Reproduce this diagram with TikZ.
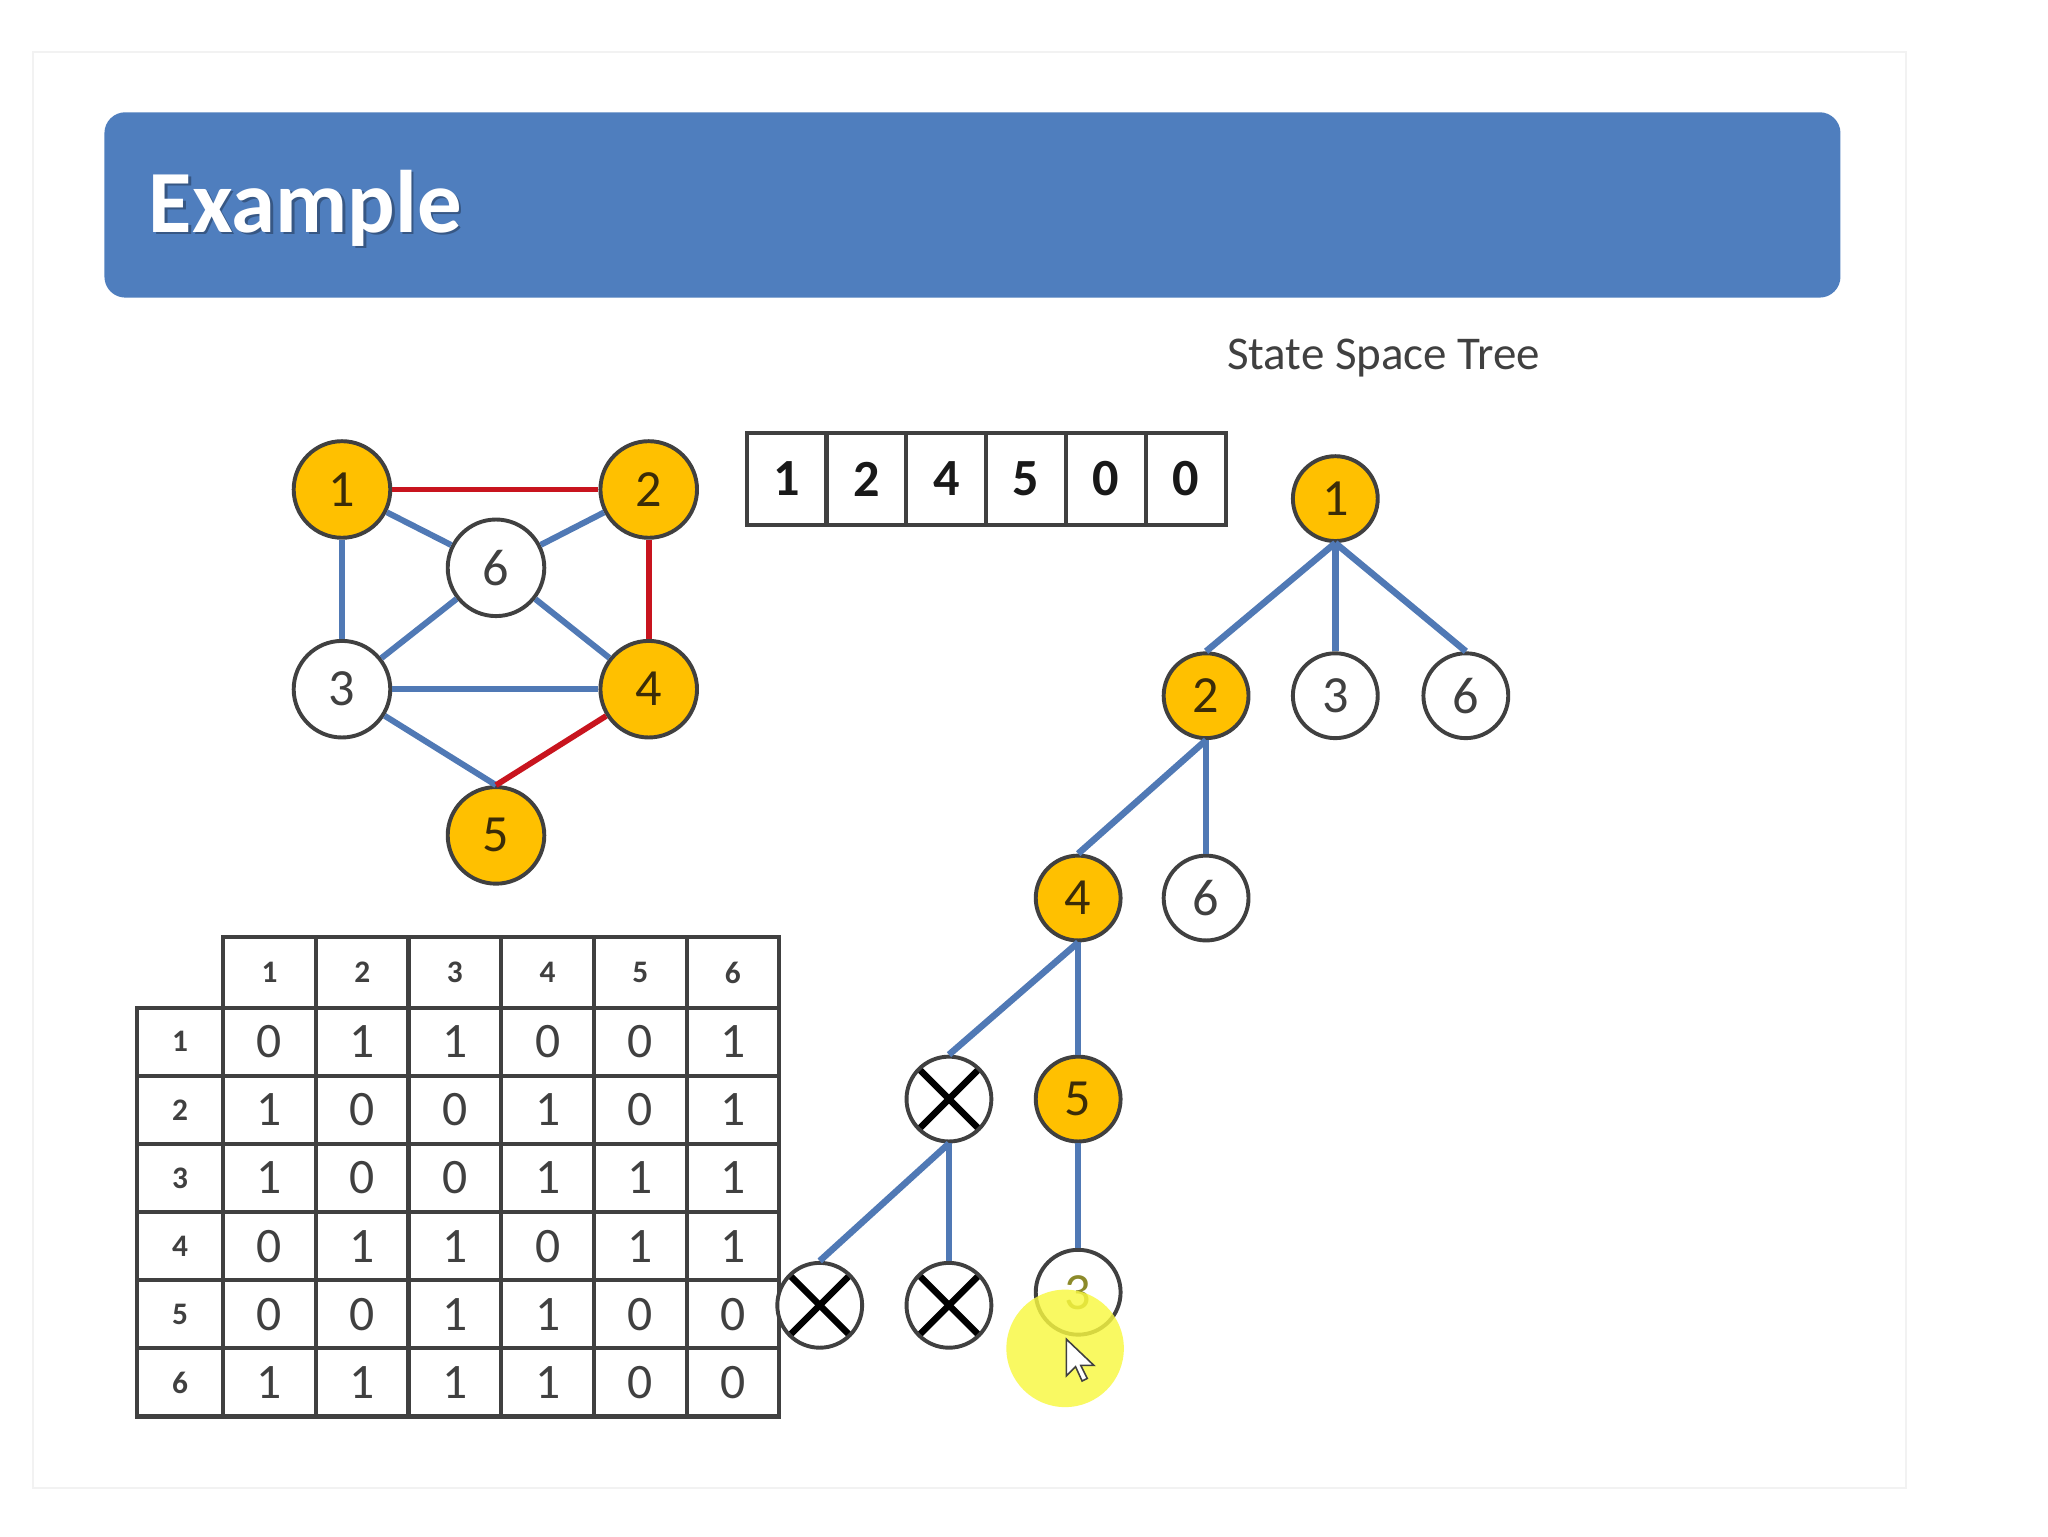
\documentclass[tikz,border=0pt]{standalone}
\usepackage{fontspec}
\setmainfont{Carlito}
\definecolor{hdrblue}{HTML}{4F7EBE}
\definecolor{gold}{HTML}{FFC000}
\definecolor{ndark}{HTML}{404040}
\definecolor{edgeblue}{HTML}{5079B5}
\definecolor{edgered}{HTML}{C8141E}
\definecolor{digbrown}{HTML}{3B2C08}
\definecolor{glow}{HTML}{F8F840}
\definecolor{olivetext}{HTML}{8C8A2A}
\begin{document}
\begin{tikzpicture}[x=0.5pt,y=-0.5pt,
  gnode/.style={circle,draw=ndark,line width=1.5pt,minimum size=37pt,inner sep=0pt,font=\fontsize{20}{20}\selectfont},
  tnode/.style={circle,draw=ndark,line width=1.5pt,minimum size=32.5pt,inner sep=0pt,font=\fontsize{20}{20}\selectfont},
  yel/.style={fill=gold,text=digbrown},
  wht/.style={fill=white,text=ndark},
  xnode/.style={tnode,fill=white,path picture={
     \draw[black,line width=2.5pt] ([shift={(-12.5pt,-12.5pt)}]path picture bounding box.center) -- ([shift={(12.5pt,12.5pt)}]path picture bounding box.center);
     \draw[black,line width=2.5pt] ([shift={(-12.5pt,12.5pt)}]path picture bounding box.center) -- ([shift={(12.5pt,-12.5pt)}]path picture bounding box.center);}},
  bedge/.style={draw=edgeblue,line width=2.3pt},
  redge/.style={draw=edgered,line width=2.2pt},
  tedge/.style={draw=edgeblue,line width=2.5pt},
  cell/.style={draw=ndark,line width=1.6pt,minimum width=35.5pt,minimum height=26.1pt,inner sep=0pt,font=\fontsize{19}{19}\selectfont,text=ndark},
  hcell/.style={draw=ndark,line width=1.6pt,minimum width=35.5pt,minimum height=27pt,inner sep=0pt,font=\bfseries\fontsize{12}{12}\selectfont,text=ndark},
  rcell/.style={draw=ndark,line width=1.6pt,minimum width=33pt,minimum height=26.1pt,inner sep=0pt,font=\bfseries\fontsize{12}{12}\selectfont,text=ndark},
  acell/.style={draw=ndark,line width=1.6pt,minimum width=30.6pt,minimum height=35.5pt,inner sep=0pt,font=\bfseries\fontsize{20}{20}\selectfont,text=black!90}
]
\useasboundingbox (0,0) rectangle (1569,1177);
\fill[white] (0,0) rectangle (1569,1177);
\draw[black!5,line width=0.8pt] (25,40) rectangle (1460,1140);

% header
\node[fill=hdrblue,rounded corners=8pt,minimum width=665pt,minimum height=71pt,inner sep=0pt] (header) at (745,157) {};
\node[anchor=base west,font=\bfseries\fontsize{34}{34}\selectfont,text=black,opacity=0.3] (exshadow) at (109,180) {Example};
\node[anchor=base west,font=\bfseries\fontsize{34}{34}\selectfont,text=white] (ex) at (107,178) {Example};

% title
\node[anchor=base west,font=\fontsize{18}{18}\selectfont,text=ndark] (title) at (933,283) {State Space Tree};

% graph
\node[gnode,yel] (g1) at (262,375) {1};
\node[gnode,yel] (g2) at (497,375) {2};
\node[gnode,wht] (g6) at (380,435) {6};
\node[gnode,wht] (g3) at (262,528) {3};
\node[gnode,yel] (g4) at (497,528) {4};
\node[gnode,yel] (g5) at (380,640) {5};
\draw[bedge] (g1) -- (g6);
\draw[bedge] (g1) -- (g3);
\draw[bedge] (g6) -- (g2);
\draw[bedge] (g6) -- (g3);
\draw[bedge] (g6) -- (g4);
\draw[bedge] (g3) -- (g4);
\draw[bedge] (g3) -- (g5.north);
\draw[redge] (g1) -- (g2);
\draw[redge] (g2) -- (g4);
\draw[redge] (g4) -- (g5.north);

% solution array
\foreach \v [count=\i] in {1,2,4,5,0,0}
  \node[acell] (a\i) at ({572+30.6+61.2*(\i-1)},367) {\v};

% adjacency table
\foreach \c in {1,...,6}
  \node[hcell] (h-\c) at ({206.5+71*(\c-1)},745) {\c};
\foreach \r in {1,...,6}
  \node[rcell] (r-\r) at (138,{798.1+52.2*(\r-1)}) {\r};
\foreach \r/\row in {1/{0,1,1,0,0,1},2/{1,0,0,1,0,1},3/{1,0,0,1,1,1},4/{0,1,1,0,1,1},5/{0,0,1,1,0,0},6/{1,1,1,1,0,0}}{
  \foreach \v [count=\c] in \row
    \node[cell] (m-\r-\c) at ({206.5+71*(\c-1)},{798.1+52.2*(\r-1)}) {\v};
}

% state space tree
\node[tnode,yel] (t1) at (1023,382) {1};
\node[tnode,yel] (t2) at (924,533) {2};
\node[tnode,wht] (t3) at (1023,533) {3};
\node[tnode,wht] (t6) at (1123,533) {6};
\node[tnode,yel] (t4) at (826,688) {4};
\node[tnode,wht] (t6b) at (924,688) {6};
\node[xnode] (x1) at (727,842) {};
\node[tnode,yel] (t5) at (826,842) {5};
\node[xnode] (x2) at (628,1000) {};
\node[xnode] (x3) at (727,1000) {};
\node[tnode,fill=white,text=olivetext] (t3b) at (826,990) {3};
\draw[tedge] (t1.south) -- (t2.north);
\draw[tedge] (t1.south) -- (t3.north);
\draw[tedge] (t1.south) -- (t6.north);
\draw[tedge] (t2.south) -- (t4.north);
\draw[tedge] (t2.south) -- (t6b.north);
\draw[tedge] (t4.south) -- (x1.north);
\draw[tedge] (t4.south) -- (t5.north);
\draw[tedge] (x1.south) -- (x2.north);
\draw[tedge] (x1.south) -- (x3.north);
\draw[tedge] (t5.south) -- (t3b.north);

% cursor highlight and pointer
\fill[glow,opacity=0.82] (816,1033) circle (22.5pt);
\filldraw[fill=white,draw=ndark,line width=0.6pt] (817,1026) -- ++(0,28) -- ++(7,-7) -- ++(5,11) -- ++(4,-2) -- ++(-5,-10) -- ++(10,0) -- cycle;
\end{tikzpicture}
\end{document}
